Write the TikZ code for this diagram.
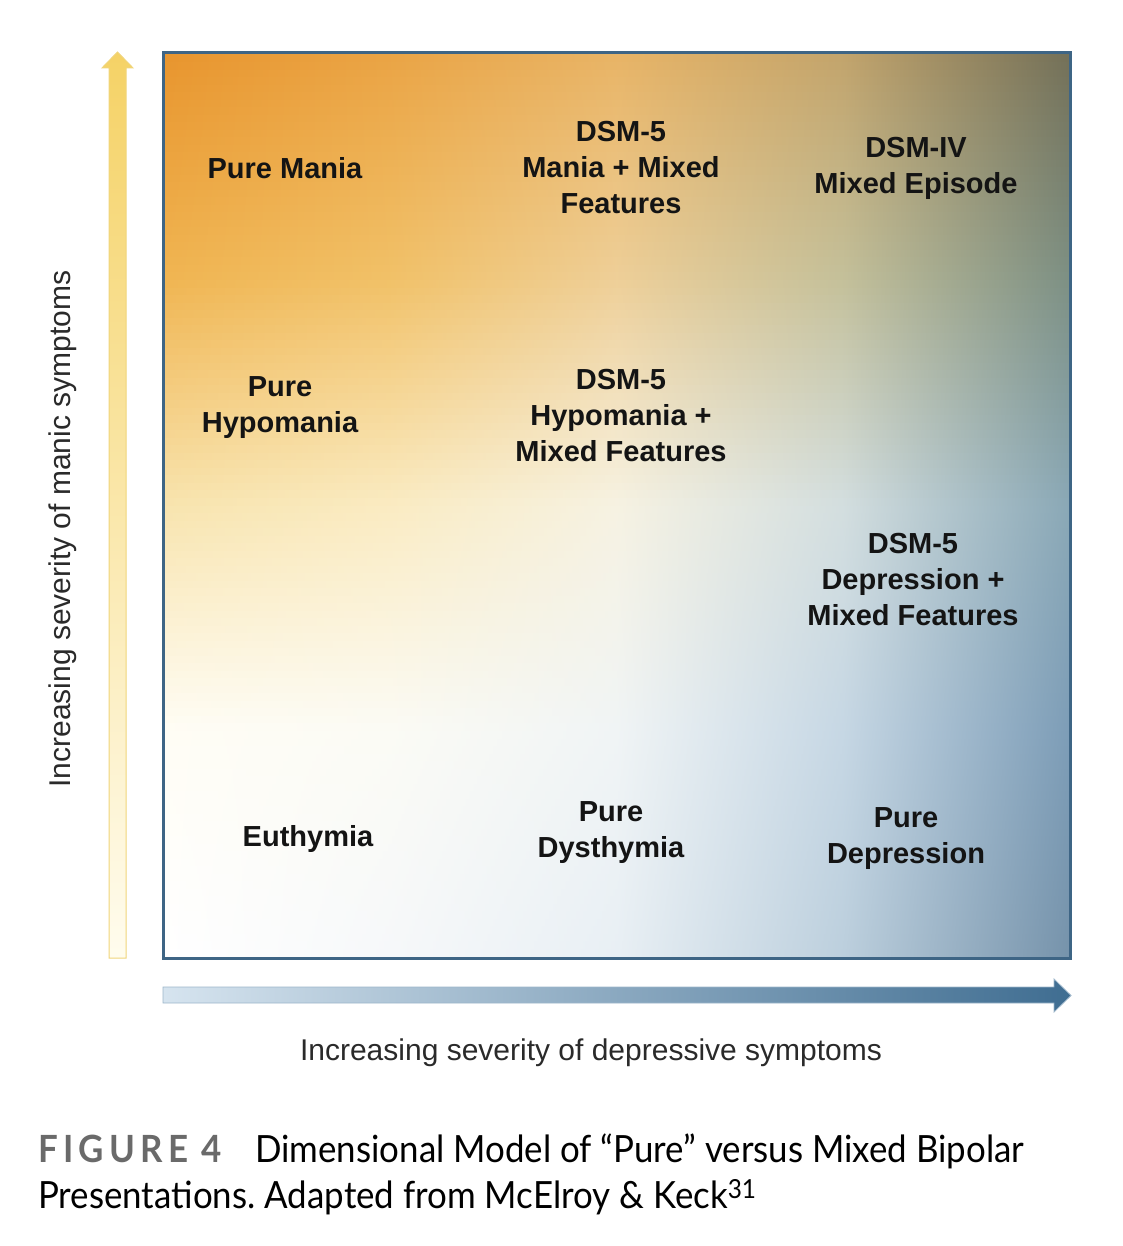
\documentclass[tikz,border=0pt]{standalone}
\usepackage{fontspec}
\setmainfont{Liberation Sans}
\newfontfamily\latofont[FakeStretch=0.93]{Lato}
\definecolor{g00}{HTML}{E8952E}\definecolor{g01}{HTML}{EAA445}\definecolor{g02}{HTML}{E8B466}\definecolor{g03}{HTML}{C2A46C}\definecolor{g04}{HTML}{737058}
\definecolor{g10}{HTML}{F0B552}\definecolor{g11}{HTML}{F1C168}\definecolor{g12}{HTML}{EECF98}\definecolor{g13}{HTML}{C4C09A}\definecolor{g14}{HTML}{7D9084}
\definecolor{g20}{HTML}{F8E4AE}\definecolor{g21}{HTML}{FAEBC2}\definecolor{g22}{HTML}{F6F2E2}\definecolor{g23}{HTML}{D3DEDF}\definecolor{g24}{HTML}{8AA8B6}
\definecolor{g30}{HTML}{FFFDF5}\definecolor{g31}{HTML}{FBFBF5}\definecolor{g32}{HTML}{F0F4F5}\definecolor{g33}{HTML}{C6D7E4}\definecolor{g34}{HTML}{7D9DB7}
\definecolor{g40}{HTML}{FFFFFF}\definecolor{g41}{HTML}{F6F8FA}\definecolor{g42}{HTML}{E8EFF4}\definecolor{g43}{HTML}{BCCFDD}\definecolor{g44}{HTML}{7693AB}
\definecolor{boxedge}{HTML}{3E6585}
\definecolor{txt}{HTML}{141414}
\definecolor{axtxt}{HTML}{2A2A2A}
\definecolor{goldtop}{HTML}{F5D266}
\definecolor{goldbot}{HTML}{FFFCEE}
\definecolor{goldedge}{HTML}{F0D57A}
\definecolor{bluel}{HTML}{D6E4EF}
\definecolor{blued}{HTML}{3F6D91}
\definecolor{blueedge}{HTML}{9DB6CA}
\definecolor{figgray}{HTML}{6A6A6A}
\frenchspacing
\begin{document}
\begin{tikzpicture}[x=1pt,y=-1pt,
  lab/.style={font=\bfseries\fontsize{29}{36}\selectfont, align=center, text=txt, inner sep=0pt},
  axlab/.style={font=\fontsize{30}{36}\selectfont, text=axtxt, inner sep=0pt},
  captext/.style={font=\latofont\fontsize{37.5}{42}\selectfont, text=black, inner sep=0pt, anchor=base west}]
\useasboundingbox (0,0) rectangle (1122,1246);
% background gradient of the box, built from horizontal strips
\foreach \k in {0,...,119}{
  \pgfmathsetmacro\pp{(\k+0.5)/30}
  \pgfmathtruncatemacro\R{min(floor(\pp),3)}
  \pgfmathtruncatemacro\Rn{\R+1}
  \pgfmathsetmacro\w{100*(1-(\pp-\R))}
  \colorlet{sa}{g\R0!\w!g\Rn0}
  \colorlet{sb}{g\R1!\w!g\Rn1}
  \colorlet{sc}{g\R2!\w!g\Rn2}
  \colorlet{sd}{g\R3!\w!g\Rn3}
  \colorlet{se}{g\R4!\w!g\Rn4}
  \pgfdeclarehorizontalshading{strip\k}{100bp}{color(0bp)=(sa); color(25bp)=(sa); color(37.5bp)=(sb); color(50bp)=(sc); color(62.5bp)=(sd); color(75bp)=(se); color(100bp)=(se)}
  \pgfmathsetmacro\ya{55+\k*7.516667}
  \pgfmathsetmacro\yb{min(\ya+8.7,957)}
  \fill[shading=strip\k] (164,\ya) rectangle (1069,\yb);
}
\draw[boxedge, line width=3pt] (163,53) rectangle (1070,958);
% vertical arrow
\draw[goldedge, line width=1pt, top color=goldtop, bottom color=goldbot]
  (109,958) -- (109,68) -- (102,68) -- (117.5,52) -- (133,68) -- (126,68) -- (126,958) -- cycle;
% horizontal arrow
\draw[blueedge, line width=0.8pt, left color=bluel, right color=blued]
  (163,987) -- (1054,987) -- (1054,979) -- (1071,995.5) -- (1054,1012) -- (1054,1003) -- (163,1003) -- cycle;
% labels in the box
\node[lab] (puremania) at (285,168) {Pure Mania};
\node[lab] (maniamixed) at (621,168) {DSM-5\\Mania + Mixed\\Features};
\node[lab] (mixedep) at (916,168) {DSM-IV\\Mixed Episode};
\node[lab] (purehypo) at (280,408) {Pure\\Hypomania};
\node[lab] (hypomixed) at (621,416) {DSM-5\\Hypomania +\\Mixed Features};
\node[lab] (depmixed) at (913,580) {DSM-5\\Depression +\\Mixed Features};
\node[lab] (euthymia) at (308,839) {Euthymia};
\node[lab] (puredys) at (611,833) {Pure\\Dysthymia};
\node[lab] (puredep) at (906,839) {Pure\\Depression};
% axis labels
\node[axlab, rotate=90] (ylab) at (63,529) {Increasing severity of manic symptoms};
\node[axlab] (xlab) at (591,1053) {Increasing severity of depressive symptoms};
% caption
\node[captext, text=figgray] (fig) at (38,1162) {\addfontfeatures{LetterSpace=14}\bfseries FIGURE 4};
\node[captext] (cap1) at (255,1162) {Dimensional Model of “Pure” versus Mixed Bipolar};
\node[captext] (cap2) at (38,1208) {Presentations. Adapted from McElroy \& Keck\textsuperscript{31}};
\end{tikzpicture}
\end{document}
